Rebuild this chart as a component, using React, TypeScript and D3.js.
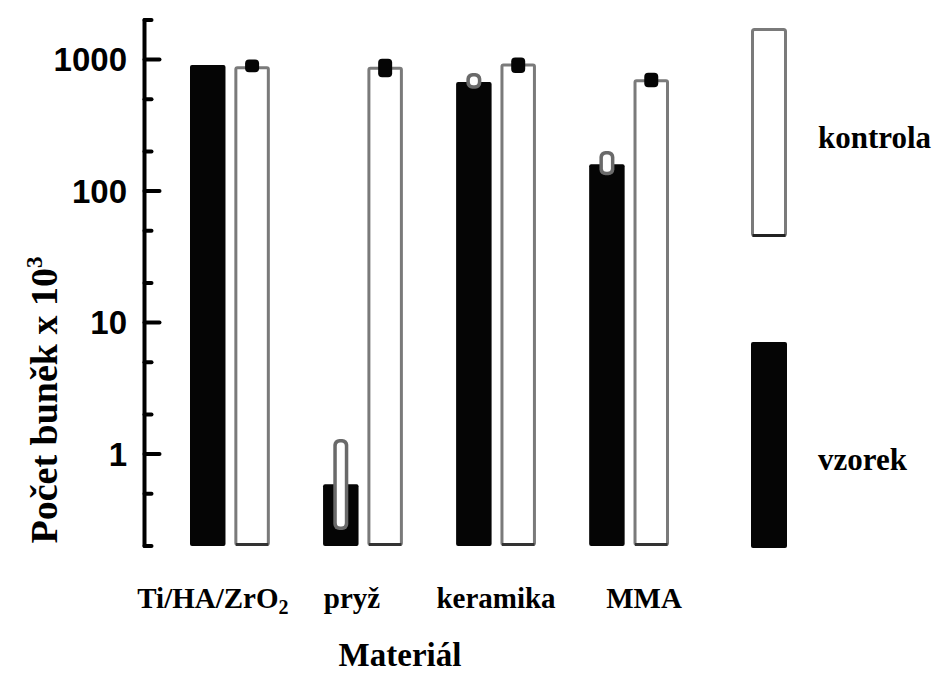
import React from 'react';
import * as d3 from 'd3';

const categories = ['Ti/HA/ZrO2', 'pryž', 'keramika', 'MMA'];
const seriesNames = ['vzorek', 'kontrola'];
const vzorek = [910, 0.59, 675, 160];
const vzorekLow = [910, 0.265, 600, 132];
const vzorekHigh = [910, 1.3, 790, 202];
const kontrola = [865, 860, 910, 690];
const kontrolaLow = [800, 735, 790, 615];
const kontrolaHigh = [1000, 1015, 1035, 795];
const yMajorTicks = [1, 10, 100, 1000];
const yTickLabels = ['1', '10', '100', '1000'];
const yMinorTicks = [0.2, 0.5, 2, 5, 20, 50, 200, 500, 2000];
const yDomain = [0.2, 2000];

const W = 939;
const H = 674;
const AXIS_X = 144.5;
const BOTTOM = 546;
const labelOffsets = [-17, -11, 0, 15];
const serif = '"Liberation Serif", "Times New Roman", serif';
const sans = '"Liberation Sans", Arial, sans-serif';

export default function App() {
  const y = d3.scaleLog().domain(yDomain).range([BOTTOM, 20]);
  const x = d3.scaleBand().domain(categories).range([190, 669]).paddingInner(0.4).paddingOuter(0);
  const xs = d3.scaleBand().domain(seriesNames).range([0, x.bandwidth()]).paddingInner(0.2);
  const bw = xs.bandwidth();

  return (
    <svg width={W} height={H} style={{ position: 'absolute', left: 0, top: 0, background: '#fff' }}>
      {/* axis */}
      <line x1={AXIS_X} x2={AXIS_X} y1={y(yDomain[1])} y2={y(yDomain[0])} stroke="#000" strokeWidth={4} strokeLinecap="round" />
      {yMajorTicks.map((t, i) => (
        <g key={'M' + t}>
          <line x1={AXIS_X} x2={AXIS_X + 15} y1={y(t)} y2={y(t)} stroke="#000" strokeWidth={4} strokeLinecap="round" />
          <text x={127} y={y(t)} dy="0.36em" textAnchor="end" fontFamily={sans} fontWeight="bold" fontSize={33} fill="#000">{yTickLabels[i]}</text>
        </g>
      ))}
      {yMinorTicks.map((t) => (
        <line key={'m' + t} x1={AXIS_X} x2={AXIS_X + 7} y1={y(t)} y2={y(t)} stroke="#000" strokeWidth={4} strokeLinecap="round" />
      ))}

      {/* bars */}
      {categories.map((c, i) => {
        const gx = x(c) as number;
        const bx = gx + (xs('vzorek') as number);
        const wx = gx + (xs('kontrola') as number);
        const cxB = bx + bw / 2;
        const cxW = wx + bw / 2;
        const yv = y(vzorek[i]);
        const yk = y(kontrola[i]);
        const hasErrB = vzorekHigh[i] !== vzorekLow[i];
        return (
          <g key={c}>
            <rect x={bx} y={yv} width={bw} height={BOTTOM - yv} fill="#050505" rx={2} />
            {hasErrB && (
              <g>
                <rect x={cxB - 7.5} y={y(vzorekHigh[i])} width={15} height={y(vzorekLow[i]) - y(vzorekHigh[i])} rx={6} fill="#6a6a6a" />
                <rect x={cxB - 4} y={y(vzorekHigh[i]) + 3.5} width={8} height={y(vzorekLow[i]) - y(vzorekHigh[i]) - 7} rx={3.5} fill="#fff" />
              </g>
            )}
            <rect x={wx + 1.5} y={yk} width={bw - 3} height={BOTTOM - yk - 1.5} fill="#fff" stroke="#7a7a7a" strokeWidth={3} rx={1.5} />
            <line x1={wx + 1.5} x2={wx + bw - 1.5} y1={BOTTOM - 1.5} y2={BOTTOM - 1.5} stroke="#333" strokeWidth={3} />
            <rect x={cxW - 7} y={y(kontrolaHigh[i])} width={14} height={y(kontrolaLow[i]) - y(kontrolaHigh[i])} rx={4} fill="#050505" />
            <text x={gx + x.bandwidth() / 2 + labelOffsets[i]} y={608} textAnchor="middle" fontFamily={serif} fontWeight="bold" fontSize={29} fill="#000">
              {c === 'Ti/HA/ZrO2' ? (
                <>
                  Ti/HA/ZrO<tspan fontSize={20} dy={6}>2</tspan>
                </>
              ) : c}
            </text>
          </g>
        );
      })}

      {/* legend */}
      <rect x={752.5} y={29.5} width={33} height={206} fill="#fff" stroke="#7a7a7a" strokeWidth={3} rx={2} />
      <line x1={752.5} x2={785.5} y1={235.5} y2={235.5} stroke="#222" strokeWidth={3} />
      <rect x={751} y={342} width={36} height={206} fill="#050505" rx={2} />
      <text x={818} y={148} fontFamily={serif} fontWeight="bold" fontSize={31} fill="#000">kontrola</text>
      <text x={818} y={470} fontFamily={serif} fontWeight="bold" fontSize={31} fill="#000">vzorek</text>

      {/* axis titles */}
      <text x={400} y={666} textAnchor="middle" fontFamily={serif} fontWeight="bold" fontSize={33} fill="#000">Materiál</text>
      <text transform="translate(57,400) rotate(-90)" textAnchor="middle" fontFamily={serif} fontWeight="bold" fontSize={38} fill="#000">
        Počet buněk x 10<tspan fontSize={23} dy={-15}>3</tspan>
      </text>
    </svg>
  );
}
